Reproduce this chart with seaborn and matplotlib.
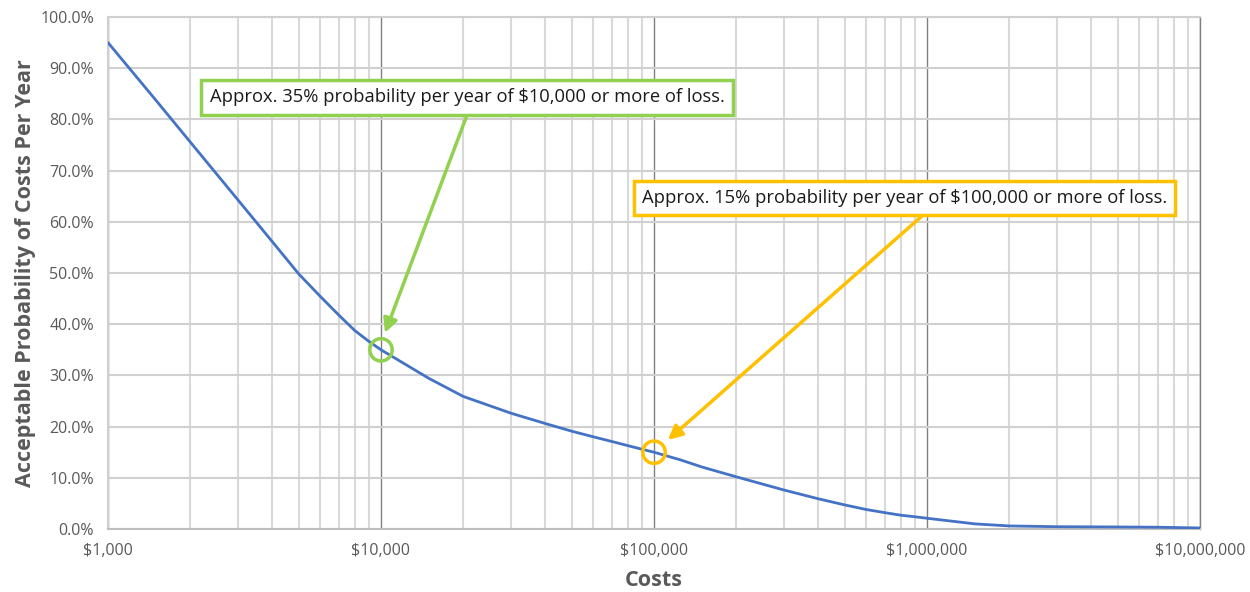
import numpy as np
import pandas as pd
import seaborn as sns
import matplotlib
matplotlib.use("Agg")
import matplotlib.pyplot as plt
from matplotlib.ticker import FixedLocator, FuncFormatter, LogLocator, NullFormatter

# Loss exceedance curve: cost level vs. acceptable yearly probability (%)
costs = [1000, 1500, 2000, 3000, 4000, 5000, 6000, 7000, 8000, 9000, 10000,
         15000, 20000, 30000, 40000, 50000, 60000, 70000, 80000, 90000,
         100000, 125000, 150000, 200000, 300000, 400000, 500000, 600000,
         700000, 800000, 900000, 1000000, 1500000, 2000000,
         3000000, 5000000, 7000000, 10000000]
probability = [95.0, 83.7, 75.6, 64.2, 56.1, 49.8, 45.4, 41.8, 38.8, 36.7, 35.0,
               29.4, 25.9, 22.6, 20.6, 19.1, 18.0, 17.1, 16.3, 15.6,
               15.0, 13.5, 12.1, 10.2, 7.6, 5.9, 4.7, 3.8,
               3.2, 2.7, 2.4, 2.1, 1.0, 0.6,
               0.45, 0.4, 0.35, 0.2]

# Highlighted points and their call-outs
marked_costs = [10000, 100000]
marked_probability = [35.0, 15.0]
callout_texts = ["Approx. 35% probability per year of $10,000 or more of loss.",
                 "Approx. 15% probability per year of $100,000 or more of loss."]
callout_colors = ["#92D050", "#FFC000"]

x_ticks = [1e3, 1e4, 1e5, 1e6, 1e7]
y_ticks = list(range(0, 101, 10))

sns.set_theme(style="white")
plt.rcParams["font.family"] = ["Open Sans", "DejaVu Sans"]

fig = plt.figure(figsize=(12.5, 5.92), dpi=100)
ax = fig.add_axes([0.0864, 0.1064, 0.8736, 0.8649])

df = pd.DataFrame({"Costs": costs, "Probability": probability})
sns.lineplot(data=df, x="Costs", y="Probability", ax=ax, color="#4472C4",
             linewidth=2.0, zorder=5)

ax.set_xscale("log")
ax.set_xlim(1e3, 1e7)
ax.set_ylim(0, 100)

# grid: light minor/horizontal lines, darker decade lines
ax.xaxis.set_major_locator(FixedLocator(x_ticks))
ax.xaxis.set_minor_locator(LogLocator(base=10, subs=range(2, 10)))
ax.xaxis.set_minor_formatter(NullFormatter())
ax.yaxis.set_major_locator(FixedLocator(y_ticks))
ax.grid(True, which="minor", axis="x", color="#d9d9d9", linewidth=1.5, zorder=0)
ax.grid(True, which="major", axis="y", color="#d0d0d0", linewidth=1.5, zorder=0)
ax.grid(True, which="major", axis="x", color="#808080", linewidth=1.0, zorder=1)

ax.xaxis.set_major_formatter(FuncFormatter(lambda v, p: f"${v:,.0f}"))
ax.yaxis.set_major_formatter(FuncFormatter(lambda v, p: f"{v:.1f}%"))
ax.tick_params(axis="both", which="both", length=0, labelsize=11.5,
               labelcolor="#595959")
ax.tick_params(axis="x", pad=10)
ax.tick_params(axis="y", pad=10)

for side in ["left", "top"]:
    ax.spines[side].set_color("#d0d0d0")
    ax.spines[side].set_linewidth(1.5)
ax.spines["bottom"].set_color("#bfbfbf")
ax.spines["bottom"].set_linewidth(1.5)
ax.spines["right"].set_color("#808080")
ax.spines["right"].set_linewidth(1.0)

ax.set_xlabel("Costs", fontsize=15.5, fontweight="bold", color="#595959",
              labelpad=8)
ax.set_ylabel("Acceptable Probability of Costs Per Year", fontsize=15.5,
              fontweight="bold", color="#595959", labelpad=3)

# highlighted points
for c, p, col in zip(marked_costs, marked_probability, callout_colors):
    ax.scatter([c], [p], s=260, facecolors="none", edgecolors=col,
               linewidths=2.5, zorder=6)

# call-out boxes with arrows
box_pos = [(0.3288, 0.8428), (0.7294, 0.6465)]
arrow_start = [(0.3288, 0.8086), (0.7454, 0.6113)]
arrow_end = [(10340, 38.3), (112500, 17.4)]
for txt, col, bp, st, en in zip(callout_texts, callout_colors, box_pos,
                                arrow_start, arrow_end):
    ax.annotate("", xy=en, xycoords="data", xytext=st,
                textcoords="axes fraction",
                arrowprops=dict(arrowstyle="-|>,head_length=0.7,head_width=0.35",
                                color=col, lw=2.5, shrinkA=0, shrinkB=0),
                zorder=7)
    ax.text(bp[0], bp[1], txt, transform=ax.transAxes, ha="center",
            va="center", fontsize=13.2, color="#1a1a1a", zorder=8,
            bbox=dict(boxstyle="square,pad=0.45", facecolor="white",
                      edgecolor=col, linewidth=2.5))

fig.savefig("out.png", dpi=100)
